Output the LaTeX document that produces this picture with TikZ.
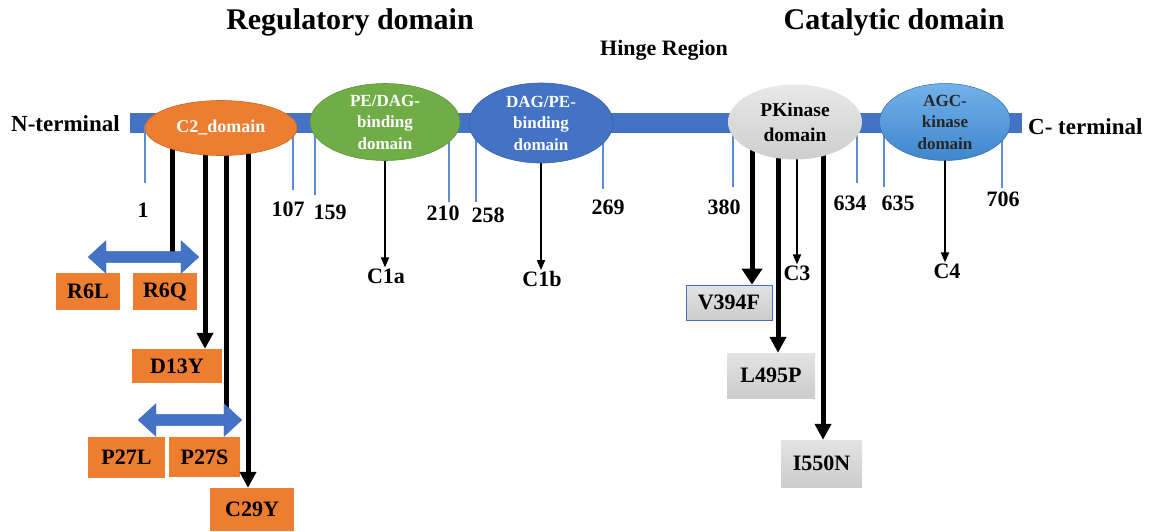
\documentclass[tikz,border=0pt]{standalone}
\usepackage{fontspec}
\setmainfont{Liberation Serif}
\usetikzlibrary{shapes.geometric,shapes.arrows,arrows.meta}
\definecolor{obar}{HTML}{4472C4}
\definecolor{tickc}{HTML}{5B8BDB}
\definecolor{orng}{HTML}{ED7D31}
\definecolor{grn}{HTML}{70AD47}
\definecolor{agctop}{HTML}{72B2EA}
\definecolor{agcbot}{HTML}{3F86CC}
\tikzset{
  lbl/.style={font=\fontsize{22}{26}\selectfont\bfseries, inner sep=1},
  head/.style={font=\fontsize{30}{34}\selectfont\bfseries, inner sep=0},
  dom/.style={ellipse, inner sep=0, align=center, font=\fontsize{17}{21.5}\selectfont\bfseries},
  obox/.style={fill=orng, inner sep=0, font=\fontsize{22}{26}\selectfont\bfseries},
  gbox/.style={top color=gray!22, bottom color=gray!40, inner sep=0, font=\fontsize{22}{26}\selectfont\bfseries},
  tk/.style={tickc, line width=2},
  bigarrow/.style={line width=5, -{Triangle[length=16pt,width=16pt]}},
  bigline/.style={line width=5},
  thinarrow/.style={line width=1.8, -{Triangle[length=10pt,width=8pt]}},
  blk/.style={double arrow, fill=obar, inner xsep=0, inner ysep=5.5, double arrow head extend=11, double arrow tip angle=85}
}
\begin{document}
\begin{tikzpicture}[x=1pt,y=-1pt]
\useasboundingbox (0,0) rectangle (1155,531);
% headings
\node[head] (reg) at (350,22) {Regulatory domain};
\node[head] (cat) at (894,22) {Catalytic domain};
\node[lbl] (hinge) at (664,50) {Hinge Region};
% backbone bar
\fill[obar] (130,113) rectangle (1022,133);
\node[lbl, anchor=east, font=\fontsize{23}{26}\selectfont\bfseries] (nterm) at (121,124) {N-terminal};
\node[lbl, anchor=west, font=\fontsize{23}{26}\selectfont\bfseries] (cterm) at (1027,127) {C- terminal};
% ticks
\draw[tk] (145,125) -- (145,183);
\draw[tk] (293,125) -- (293,190);
\draw[tk] (315,125) -- (315,195);
\draw[tk] (449,125) -- (449,202);
\draw[tk] (476,125) -- (476,202);
\draw[tk] (603,125) -- (603,189);
\draw[tk] (733,125) -- (733,187);
\draw[tk] (857,125) -- (857,183);
\draw[tk] (884,125) -- (884,187);
\draw[tk] (1002,125) -- (1002,188);
% numbers
\node[lbl] (n1) at (143,210) {1};
\node[lbl] (n107) at (288,209) {107};
\node[lbl] (n159) at (330,212) {159};
\node[lbl] (n210) at (443,213) {210};
\node[lbl] (n258) at (488,215) {258};
\node[lbl] (n269) at (608,207) {269};
\node[lbl] (n380) at (724,207) {380};
\node[lbl] (n634) at (850,203) {634};
\node[lbl] (n635) at (898,203) {635};
\node[lbl] (n706) at (1003,199) {706};
% mutation boxes and labels
\node[obox, minimum width=64, minimum height=37] (r6l) at (88,291.5) {R6L};
\node[obox, minimum width=64, minimum height=37] (r6q) at (165,291.5) {R6Q};
\node[obox, minimum width=90, minimum height=34] (d13y) at (177,366) {D13Y};
\node[obox, minimum width=77, minimum height=41] (p27l) at (126.5,457.5) {P27L};
\node[obox, minimum width=71, minimum height=40] (p27s) at (204.5,457) {P27S};
\node[obox, minimum width=84, minimum height=43] (c29y) at (252,509.5) {C29Y};
\node[gbox, draw=obar, line width=0.8, minimum width=86, minimum height=35] (v394f) at (729,302.5) {V394F};
\node[gbox, minimum width=88, minimum height=45] (l495p) at (771,375.5) {L495P};
\node[gbox, minimum width=81, minimum height=47] (i550n) at (821.5,463.5) {I550N};
\node[lbl] (c1a) at (386,276) {C1a};
\node[lbl] (c1b) at (542,279) {C1b};
\node[lbl] (c3) at (797,273) {C3};
\node[lbl] (c4) at (947,271) {C4};
% domain ellipses (positions)
\coordinate (c2c) at (221,128);
\coordinate (pec) at (385,122);
\coordinate (dagc) at (541,123);
\coordinate (pkc) at (795,122);
\coordinate (agcc) at (945,122);
% start points of arrows
\coordinate (s1) at (172,128);
\coordinate (s2) at (205,128);
\coordinate (s3) at (226,128);
\coordinate (s4) at (248,128);
\coordinate (s5) at (752,122);
\coordinate (s6) at (778,122);
\coordinate (s7) at (797,122);
\coordinate (s8) at (823,122);
% blue double arrows (positions)
\node[blk, minimum height=111] (da1) at (143.5,257) {};
\node[blk, minimum height=104] (da2) at (190,420) {};
% black arrows (behind ellipses)
\draw[bigline] (s1) -- (s1 |- da1.center);
\draw[bigarrow] (s2) -- (s2 |- d13y.north);
\draw[bigline] (s3) -- (s3 |- da2.center);
\draw[bigarrow] (s4) -- (s4 |- c29y.north);
\draw[line width=5, -{Triangle[length=16pt,width=20pt]}] (s5) -- (s5 |- v394f.north);
\draw[bigarrow] (s6) -- (s6 |- l495p.north);
\draw[thinarrow] (s7) -- (c3.north);
\draw[bigarrow] (s8) -- (s8 |- i550n.north);
\draw[thinarrow] (pec) -- (pec |- c1a.north);
\draw[thinarrow] (dagc) -- (dagc |- c1b.north);
\draw[thinarrow] (agcc) -- (agcc |- c4.north);
% redraw double arrows on top of lines
\node[blk, minimum height=111] at (da1.center) {};
\node[blk, minimum height=104] at (da2.center) {};
% ellipses
\node[dom, fill=orng, draw=orng!85!black, line width=0.6, minimum width=152, minimum height=55, text=white, font=\fontsize{18}{21}\selectfont\bfseries] (c2) at (c2c) {C2\_domain};
\node[dom, fill=grn, draw=grn!85!black, line width=0.6, minimum width=150, minimum height=75, text=white] (pe) at (pec) {PE/DAG-\\binding\\domain};
\node[dom, fill=obar, draw=obar!85!black, line width=0.6, minimum width=144, minimum height=80, text=white] (dag) at (dagc) {DAG/PE-\\binding\\domain};
\node[dom, top color=gray!18, bottom color=gray!38, minimum width=134, minimum height=75, font=\fontsize{19.5}{25}\selectfont\bfseries] (pk) at (pkc) {PKinase\\domain};
\node[dom, top color=agctop, bottom color=agcbot, draw=agcbot!80!black, line width=0.5, minimum width=131, minimum height=71, text=black!85] (agc) at (agcc) {AGC-\\kinase\\domain};
\end{tikzpicture}
\end{document}
